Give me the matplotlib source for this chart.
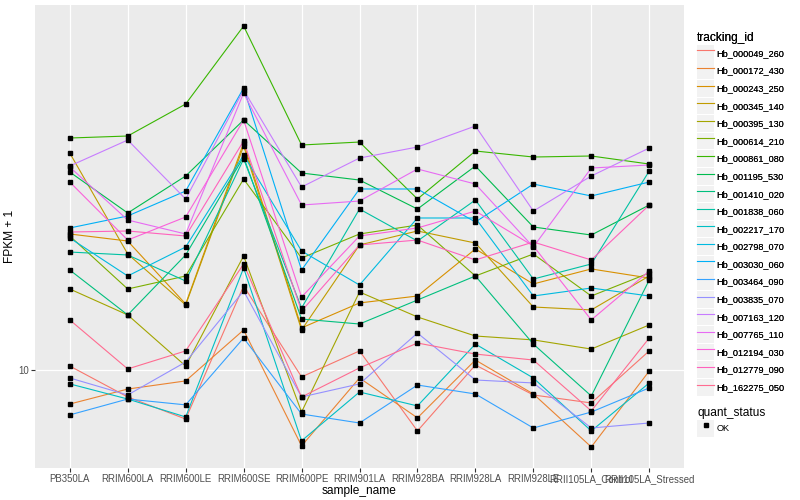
import numpy as np
import matplotlib.pyplot as plt
from matplotlib.lines import Line2D
from matplotlib.patches import Patch
from matplotlib.legend_handler import HandlerTuple
from matplotlib.ticker import NullLocator

plt.rcParams["font.family"] = ["Liberation Sans", "DejaVu Sans"]

# ---------------------------------------------------------------------------
# Data (FPKM + 1)
# ---------------------------------------------------------------------------
SAMPLES = ["PB350LA", "RRIM600LA", "RRIM600LE", "RRIM600SE", "RRIM600PE",
           "RRIM901LA", "RRIM928BA", "RRIM928LA", "RRIM928LE",
           "RRII105LA_Control", "RRII105LA_Stressed"]

TRACKING_IDS = ["Hb_000049_260", "Hb_000172_430", "Hb_000243_250", "Hb_000345_140",
                "Hb_000395_130", "Hb_000614_210", "Hb_000861_080", "Hb_001195_530",
                "Hb_001410_020", "Hb_001838_060", "Hb_002217_170", "Hb_002798_070",
                "Hb_003030_060", "Hb_003464_090", "Hb_003835_070", "Hb_007163_120",
                "Hb_007765_110", "Hb_012194_030", "Hb_012779_090", "Hb_162275_050"]

# ggplot default hue palette for 20 levels
COLORS = ["#F8766D", "#EA8331", "#D89000", "#C09B00", "#A3A500", "#7CAE00",
          "#39B600", "#00BB4E", "#00BF7D", "#00C1A3", "#00BFC4", "#00BAE0",
          "#00B0F6", "#35A2FF", "#9590FF", "#C77CFF", "#E76BF3", "#FA62DB",
          "#FF62BC", "#FF6C91"]

HB_000049_260 = [10.23, 8.56, 7.54, 16.22, 9.61, 11.16, 7.04, 10.29, 8.66, 8.27, 11.16]
HB_000172_430 = [8.22, 8.96, 9.39, 12.59, 6.46, 9.55, 7.59, 10.59, 8.71, 6.42, 9.94]
HB_000243_250 = [21.88, 21.01, 14.62, 36.94, 12.74, 14.71, 15.31, 20.07, 16.41, 17.89, 16.98]
HB_000345_140 = [34.87, 19.50, 14.54, 36.31, 12.59, 20.54, 22.26, 20.77, 14.37, 14.13, 17.18]
HB_000395_130 = [15.94, 13.73, 10.23, 19.28, 7.85, 15.67, 13.57, 12.16, 11.89, 11.28, 12.96]
HB_000614_210 = [21.63, 15.94, 17.18, 30.02, 19.05, 21.88, 23.04, 17.18, 19.50, 15.31, 17.48]
HB_000861_080 = [38.02, 38.46, 46.24, 72.44, 36.52, 37.15, 26.76, 35.28, 34.08, 34.28, 32.73]
HB_001195_530 = [31.26, 24.69, 30.55, 42.17, 31.08, 29.85, 25.26, 32.36, 22.78, 21.75, 25.85]
HB_001410_020 = [17.78, 13.73, 19.39, 34.08, 13.41, 13.03, 14.96, 17.18, 11.61, 8.61, 16.79]
HB_001838_060 = [19.72, 19.39, 16.69, 33.69, 14.29, 25.26, 21.01, 26.61, 16.88, 18.41, 31.44]
HB_002217_170 = [9.23, 8.46, 7.63, 17.99, 6.65, 8.81, 8.13, 11.61, 9.55, 7.04, 9.28]
HB_002798_070 = [21.38, 17.18, 20.30, 34.47, 19.84, 16.31, 23.99, 23.99, 15.31, 16.03, 15.31]
HB_003030_060 = [22.65, 24.27, 28.02, 50.70, 17.78, 28.35, 28.35, 23.44, 29.17, 27.23, 29.51]
HB_003464_090 = [7.72, 8.46, 8.18, 12.02, 7.76, 7.37, 9.17, 8.71, 7.16, 7.85, 9.02]
HB_003835_070 = [9.55, 8.66, 10.47, 15.76, 8.56, 9.23, 12.37, 9.44, 9.28, 7.16, 7.37]
HB_007163_120 = [32.36, 37.58, 26.76, 50.12, 28.67, 33.88, 36.10, 40.74, 24.97, 30.55, 35.89]
HB_007765_110 = [32.17, 23.71, 21.88, 49.26, 25.85, 26.45, 31.81, 29.17, 20.30, 31.99, 32.55]
HB_012194_030 = [29.51, 21.13, 24.13, 42.17, 15.22, 21.63, 22.65, 24.97, 20.42, 13.34, 17.68]
HB_012779_090 = [22.13, 22.26, 21.63, 37.37, 14.04, 20.54, 21.13, 18.84, 20.89, 18.84, 25.85]
HB_162275_050 = [13.34, 10.06, 11.16, 18.41, 8.56, 10.12, 11.68, 10.96, 10.59, 7.90, 12.02]

SERIES = [HB_000049_260, HB_000172_430, HB_000243_250, HB_000345_140, HB_000395_130,
          HB_000614_210, HB_000861_080, HB_001195_530, HB_001410_020, HB_001838_060,
          HB_002217_170, HB_002798_070, HB_003030_060, HB_003464_090, HB_003835_070,
          HB_007163_120, HB_007765_110, HB_012194_030, HB_012779_090, HB_162275_050]

QUANT_STATUS = ["OK"]

PANEL_BG = "#EBEBEB"
KEY_BG = "#F2F2F2"
TEXT_GREY = "#4D4D4D"

LEGEND_KW = dict(handler_map={tuple: HandlerTuple(ndivide=1, pad=0)},
                 loc="upper left", frameon=False, fontsize=6.6,
                 title_fontsize=8.6, alignment="left",
                 handlelength=1.9, handleheight=2.42, labelspacing=0.1,
                 handletextpad=0.25, borderpad=0, borderaxespad=0)


def main() -> None:
    fig = plt.figure(figsize=(8, 5), dpi=100)
    ax = fig.add_axes([35 / 800, 32 / 500, 649 / 800, 463 / 500])
    ax.set_facecolor(PANEL_BG)
    for s in ax.spines.values():
        s.set_visible(False)

    x = np.arange(1, len(SAMPLES) + 1)

    # lines first, points on top (as geom_line + geom_point)
    for vals, col in zip(SERIES, COLORS):
        ax.plot(x, vals, color=col, linewidth=0.8, zorder=2)
    for vals in SERIES:
        ax.plot(x, vals, linestyle="none", marker="s", markersize=2.2,
                color="black", zorder=3)

    # scales
    ax.set_yscale("log")
    allv = np.concatenate([np.asarray(v) for v in SERIES])
    lo, hi = np.log10(allv.min()), np.log10(allv.max())
    pad = 0.05 * (hi - lo)
    ax.set_ylim(10 ** (lo - pad), 10 ** (hi + pad))
    ax.set_xlim(0.4, len(SAMPLES) + 0.6)

    ax.set_yticks([10])
    ax.set_yticklabels(["10"])
    ax.yaxis.set_minor_locator(NullLocator())
    ax.set_xticks(x)
    ax.set_xticklabels(SAMPLES)

    ax.tick_params(axis="both", length=3, width=0.8, color="#333333",
                   labelsize=6.9, labelcolor=TEXT_GREY, pad=1.5)
    ax.grid(True, which="major", color="white", linewidth=0.9)
    ax.set_axisbelow(True)

    ax.set_xlabel("sample_name", fontsize=8.6)
    ax.xaxis.set_label_coords(0.5, -0.036)
    ax.set_ylabel("FPKM + 1", fontsize=8.6)
    ax.yaxis.set_label_coords(-0.030, 0.5)

    # legends
    handles = [(Patch(facecolor=KEY_BG, edgecolor="none"),
                Line2D([], [], color=c, linewidth=0.8)) for c in COLORS]
    leg1 = fig.legend(handles, TRACKING_IDS, title="tracking_id",
                      bbox_to_anchor=(697 / 800, 1 - 32 / 500), **LEGEND_KW)
    fig.add_artist(leg1)

    qs_handles = [(Patch(facecolor=KEY_BG, edgecolor="none"),
                   Line2D([], [], linestyle="none", marker="s", markersize=2.2,
                          color="black"))]
    fig.legend(qs_handles, QUANT_STATUS, title="quant_status",
               bbox_to_anchor=(697 / 800, 1 - 407 / 500), **LEGEND_KW)

    fig.savefig("out.png", dpi=100, facecolor="white")
    plt.close(fig)


if __name__ == "__main__":
    main()
